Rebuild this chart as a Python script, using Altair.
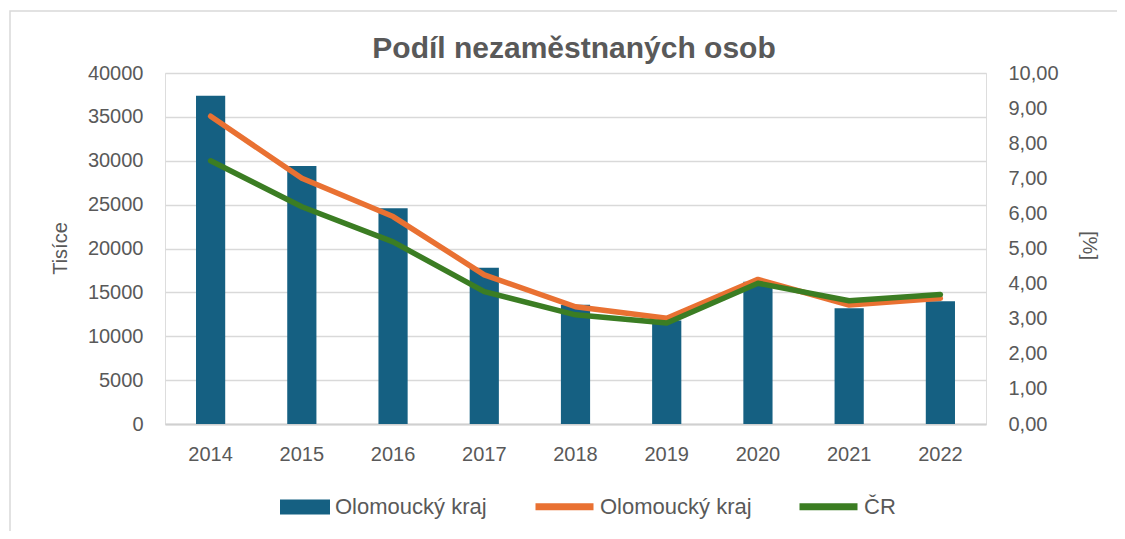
import altair as alt
import pandas as pd

years = ["2014", "2015", "2016", "2017", "2018", "2019", "2020", "2021", "2022"]
uchazeci = [37400, 29400, 24600, 17800, 13600, 11800, 16200, 13200, 14000]
podil_olo = [8.77, 7.00, 5.91, 4.25, 3.34, 3.01, 4.12, 3.39, 3.58]
podil_cr = [7.50, 6.19, 5.19, 3.77, 3.11, 2.88, 4.01, 3.51, 3.69]
left_ticks = [0, 5000, 10000, 15000, 20000, 25000, 30000, 35000, 40000]
right_ticks = [0, 1, 2, 3, 4, 5, 6, 7, 8, 9, 10]
title_text = ["Podíl nezaměstnaných osob"]

bar_label = "Olomoucký kraj"
line_keys = ["olo", "cr"]
line_colors = ["#E97132", "#3B7D23"]
bar_color = "#156082"
text_color = "#595959"
font = "Liberation Sans"

bars_df = pd.DataFrame({"rok": years, "pocet": uchazeci, "label": [bar_label] * len(years)})
lines_df = pd.DataFrame({
    "rok": years * 2,
    "podil": podil_olo + podil_cr,
    "serie": ["olo"] * len(years) + ["cr"] * len(years),
})
title_df = pd.DataFrame({"t": title_text})

x_enc = alt.X("rok:N", sort=years, title=None,
              scale=alt.Scale(paddingInner=0.68, paddingOuter=0.34),
              axis=alt.Axis(labelAngle=0, labelFont=font, labelFontSize=20, labelColor=text_color,
                            labelPadding=20, ticks=False, domainColor="#d0d0d0", domainWidth=2,
                            grid=False))

bars = alt.Chart(bars_df).mark_bar(color=bar_color).encode(
    x=x_enc,
    y=alt.Y("pocet:Q", scale=alt.Scale(domain=[0, 40000]),
            axis=alt.Axis(title="Tisíce", values=left_ticks, format="d", orient="left",
                          labelFont=font, labelFontSize=20, labelColor=text_color,
                          labelPadding=22, ticks=False, domain=False,
                          gridColor="#d9d9d9", gridWidth=1.5,
                          titleFont=font, titleFontSize=20, titleColor=text_color,
                          titleFontWeight="normal", titleAngle=-90, titleX=-105, titleY=175,
                          titleAlign="center", titleBaseline="middle")),
    fill=alt.Fill("label:N", scale=alt.Scale(domain=[bar_label], range=[bar_color]),
                  legend=alt.Legend(orient="none", legendX=115, legendY=409, title=None,
                                    direction="horizontal", padding=0,
                                    symbolType="M-1,-0.3H1V0.3H-1Z", symbolSize=2500,
                                    symbolStrokeWidth=0, symbolOpacity=1,
                                    labelFont=font, labelFontSize=22, labelColor=text_color,
                                    labelOffset=5)),
)

lines = alt.Chart(lines_df).mark_line(strokeWidth=5.5, strokeCap="round", strokeJoin="round").encode(
    x=alt.X("rok:N", sort=years),
    y=alt.Y("podil:Q", scale=alt.Scale(domain=[0, 10]),
            axis=alt.Axis(title="[%]", values=right_ticks, orient="right",
                          labelExpr="replace(format(datum.value, '.2f'), '.', ',')",
                          labelFont=font, labelFontSize=20, labelColor=text_color,
                          labelPadding=22, ticks=False, domain=False, grid=False,
                          titleFont=font, titleFontSize=20, titleColor=text_color,
                          titleFontWeight="normal", titleAngle=90, titleX=102, titleY=172,
                          titleAlign="center", titleBaseline="middle")),
    stroke=alt.Stroke("serie:N", scale=alt.Scale(domain=line_keys, range=line_colors),
                      legend=alt.Legend(orient="none", legendX=367, legendY=401, title=None,
                                        direction="horizontal", padding=0,
                                        symbolType="stroke", symbolSize=3364, symbolStrokeWidth=7,
                                        symbolOpacity=1, columnPadding=33,
                                        labelExpr="datum.value == 'olo' ? 'Olomoucký kraj' : 'ČR'",
                                        labelFont=font, labelFontSize=22, labelColor=text_color,
                                        labelOffset=3)),
    order=alt.Order("serie:N", sort="descending"),
)

frame = alt.Chart(pd.DataFrame({"a": [0]})).mark_rect(
    fill=None, stroke="#d9d9d9", strokeWidth=1.5
).encode(x=alt.value(-155), x2=alt.value(975), y=alt.value(-62), y2=alt.value(480))

title = alt.Chart(title_df).mark_text(
    font=font, fontSize=30, fontWeight="bold", color=text_color,
    align="center", baseline="alphabetic"
).encode(text="t:N", x=alt.value(409), y=alt.value(-15))

chart = alt.layer(frame, bars, lines, title).resolve_scale(
    y="independent", fill="independent", stroke="independent"
).properties(
    width=821, height=351,
    autosize=alt.AutoSizeParams(type="none"),
    padding={"left": 157, "top": 65, "right": 131, "bottom": 107},
).configure_view(stroke=None).configure(background="white")

chart.save("out.html", embed_options={"renderer": "svg", "actions": False})
